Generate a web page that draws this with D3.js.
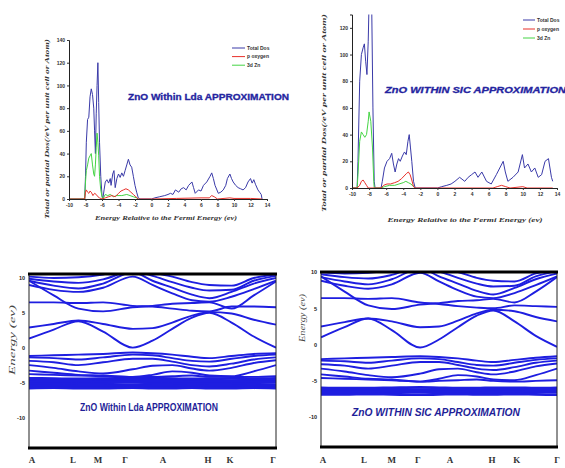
<!DOCTYPE html>
<html>
<head>
<meta charset="utf-8">
<style>
  body { margin: 0; background: #fff; }
  .tick text { font-family: "Liberation Sans", Arial, sans-serif; font-weight: bold; }
</style>
</head>
<body>
<div id="chart"></div>
<script src="https://d3js.org/d3.v7.min.js"></script>
<script>
// ---------- DOS data: [energy (eV), states] ----------
var xTicks = [-10, -8, -6, -4, -2, 0, 2, 4, 6, 8, 10, 12, 14];
var ldaYTicks = [0, 20, 40, 60, 80, 100, 120, 140];
var sicYTicks = [0, 20, 40, 60, 80, 100, 120];
var legendNames = ["Total Dos", "p oxygen", "3d Zn"];

var ldaTotal = [[-10,0],[-8.1,0],[-8.0,20],[-7.9,50],[-7.75,70],[-7.6,72],[-7.45,90],[-7.3,97],[-7.15,92],[-7.0,80],[-6.9,60],[-6.8,40],[-6.7,75],[-6.6,100],[-6.5,120],[-6.4,85],[-6.3,50],[-6.15,20],[-6.0,3],[-5.9,0],[-5.75,8],[-5.6,15],[-5.4,17],[-5.2,14],[-5.0,18],[-4.9,12],[-4.7,22],[-4.55,25],[-4.4,10],[-4.2,18],[-4.0,22],[-3.8,19],[-3.6,23],[-3.4,20],[-3.2,25],[-3.0,30],[-2.8,35],[-2.6,30],[-2.4,28],[-2.2,20],[-2.0,12],[-1.8,6],[-1.6,1],[-1.4,0],[0,0],[0.4,1],[1.0,2],[1.6,3],[2.0,4],[2.3,5],[2.6,4],[2.9,8],[3.3,6],[3.6,9],[3.9,10],[4.2,8],[4.5,12],[4.9,15],[5.1,10],[5.3,5],[5.7,8],[6.0,7],[6.3,12],[6.7,15],[7.1,20],[7.3,23],[7.5,18],[7.7,12],[8.1,5],[8.4,6],[8.7,8],[9.0,12],[9.2,18],[9.5,22],[9.7,18],[9.9,15],[10.2,12],[10.5,10],[10.8,9],[11.1,8],[11.4,10],[11.7,15],[12.0,18],[12.2,14],[12.4,17],[12.6,13],[12.9,8],[13.1,6],[13.3,4],[13.4,0]];
var ldaOxygen = [[-10,0],[-8.1,0],[-8.0,6],[-7.9,8],[-7.75,6],[-7.6,5],[-7.45,7],[-7.3,6],[-7.1,3],[-6.9,5],[-6.7,4],[-6.5,2],[-6.3,1],[-6.0,0],[-5.6,1],[-5.2,2],[-4.8,3],[-4.4,2],[-4.0,5],[-3.7,7],[-3.4,8],[-3.1,9],[-2.8,8],[-2.5,6],[-2.2,4],[-1.9,2],[-1.6,0],[0,0],[3,0.5],[6,1],[7.0,1],[7.3,3],[7.6,2],[8,0],[9.5,1],[10,0.5],[12,0.5],[13.4,0]];
var ldaZn = [[-10,0],[-8.1,0],[-8.0,15],[-7.9,25],[-7.75,30],[-7.6,36],[-7.45,38],[-7.3,40],[-7.15,30],[-7.0,22],[-6.9,20],[-6.8,30],[-6.7,45],[-6.6,58],[-6.5,50],[-6.4,38],[-6.3,20],[-6.15,8],[-6.0,2],[-5.9,0],[-5.6,4],[-5.3,3],[-5.0,4],[-4.6,2],[-4.2,3],[-3.6,3],[-3.0,4],[-2.6,3],[-2.2,2],[-1.8,1],[-1.6,0]];

var sicTotal = [[-10,0],[-9.4,0],[-9.3,20],[-9.1,80],[-8.9,100],[-8.7,105],[-8.55,108],[-8.4,95],[-8.25,85],[-8.1,110],[-8.0,140],[-7.7,140],[-7.55,60],[-7.4,5],[-7.3,0],[-6.6,0],[-6.45,5],[-6.2,15],[-5.9,20],[-5.6,22],[-5.35,26],[-5.15,18],[-4.95,12],[-4.75,18],[-4.55,22],[-4.35,20],[-4.1,24],[-3.85,27],[-3.65,25],[-3.45,35],[-3.3,40],[-3.15,30],[-3.0,20],[-2.8,5],[-2.6,0],[0,0],[0.5,1],[1.1,2],[1.6,3],[2.05,5],[2.6,8],[3.2,5],[3.6,8],[4.0,10],[4.4,12],[4.75,8],[5.2,12],[5.75,5],[6.3,3],[6.9,10],[7.3,15],[7.7,20],[7.95,12],[8.25,5],[8.85,8],[9.45,12],[9.95,25],[10.2,15],[10.6,18],[11.0,12],[11.4,15],[11.8,8],[12.2,10],[12.6,20],[13.0,22],[13.35,8],[13.5,5]];
var sicOxygen = [[-10,0],[-9.4,0],[-9.1,2],[-8.9,5],[-8.7,6],[-8.5,4],[-8.3,2],[-8.1,0],[-6.6,0],[-6.3,2],[-5.9,3],[-5.5,3],[-5.0,4],[-4.6,5],[-4.2,7],[-3.9,9],[-3.6,11],[-3.4,12],[-3.2,10],[-3.0,6],[-2.8,1],[-2.6,0],[0,0],[6.5,0],[7.0,1],[7.5,2],[8.0,1],[8.5,0],[10,1],[10.5,0],[13.5,0]];
var sicZn = [[-10,0],[-9.4,0],[-9.3,10],[-9.1,35],[-8.9,42],[-8.7,40],[-8.5,38],[-8.3,40],[-8.1,50],[-8.0,57],[-7.8,50],[-7.6,30],[-7.45,5],[-7.4,0],[-6.6,0],[-6.2,1],[-5.6,2],[-5.0,2],[-4.5,3],[-4.0,4],[-3.7,5],[-3.4,4],[-3.1,3],[-2.8,1],[-2.6,0]];

// ---------- band structure data ----------
// k along the path (0 = A ... 1 = Gamma)
var kKnots = [0, 0.1, 0.2, 0.3, 0.42, 0.5, 0.58, 0.66, 0.73, 0.82, 0.91, 1.0];
var kNames = ["A", "L", "M", "\u0393", "A", "H", "K", "\u0393"];
var ldaKPos = [0.012, 0.178, 0.279, 0.389, 0.543, 0.725, 0.814, 0.988];
var sicKPos = [0.008, 0.182, 0.300, 0.410, 0.547, 0.725, 0.830, 1.0];
var eTicks = [-10, -5, 0, 5, 10];

var ldaBands = [
  [1.3, 2.6, 3.8, 2.3, 0.0, 1.0, 2.7, 4.3, 5.0, 3.6, 1.6, 0.0],
  [2.9, 3.4, 3.9, 3.4, 2.7, 2.8, 3.6, 4.6, 5.1, 4.9, 4.0, 3.3],
  [6.5, 6.5, 6.4, 6.5, 6.0, 5.9, 5.6, 5.3, 5.2, 5.9, 5.9, 5.8],
  [9.6, 7.5, 5.6, 5.2, 5.8, 6.0, 6.3, 6.4, 6.5, 5.6, 7.5, 9.5],
  [9.0, 8.3, 8.0, 8.6, 10.2, 9.0, 7.8, 6.8, 6.6, 7.3, 8.4, 9.6],
  [9.6, 8.9, 8.5, 9.2, 10.8, 9.6, 8.6, 7.6, 7.1, 8.0, 9.2, 10.0],
  [9.9, 9.5, 9.3, 9.8, 11.0, 10.3, 9.4, 8.6, 8.2, 8.3, 9.6, 10.3],
  [10.2, 10.0, 10.1, 10.5, 11.5, 10.8, 10.2, 9.4, 9.0, 8.9, 10.0, 10.5],
  [-1.2, -1.1, -1.0, -0.9, -0.7, -0.8, -1.0, -1.3, -1.5, -1.2, -0.9, -0.8],
  [-1.4, -1.5, -1.7, -1.4, -1.0, -1.1, -1.5, -1.9, -2.0, -1.6, -1.2, -1.0],
  [-1.9, -2.1, -2.5, -2.1, -1.6, -1.6, -2.0, -2.5, -2.7, -2.3, -1.7, -1.4],
  [-2.5, -2.9, -3.4, -3.7, -3.1, -2.6, -2.5, -3.0, -3.3, -2.9, -2.2, -1.8],
  [-3.3, -3.6, -3.9, -4.0, -4.2, -3.9, -3.4, -3.6, -4.0, -4.1, -3.4, -2.5],
  [-3.8, -3.9, -4.0, -4.1, -4.2, -4.2, -4.1, -4.0, -4.2, -4.2, -4.2, -4.1]
];
var ldaDBands = [
  [-4.40, -4.45, -4.50, -4.45, -4.35, -4.40, -4.45, -4.50, -4.45, -4.40, -4.45, -4.40],
  [-4.70, -4.70, -4.75, -4.70, -4.65, -4.70, -4.75, -4.70, -4.70, -4.75, -4.70, -4.65],
  [-4.95, -5.00, -5.00, -4.95, -4.95, -5.00, -5.00, -4.95, -5.00, -5.00, -4.95, -4.95],
  [-5.25, -5.25, -5.20, -5.25, -5.30, -5.25, -5.20, -5.25, -5.25, -5.20, -5.25, -5.30],
  [-5.50, -5.55, -5.50, -5.50, -5.55, -5.50, -5.50, -5.55, -5.50, -5.50, -5.55, -5.50],
  [-5.80, -5.75, -5.80, -5.80, -5.75, -5.80, -5.80, -5.75, -5.80, -5.80, -5.75, -5.80]
];

var sicBands = [
  [1.0, 2.4, 3.6, 2.0, -0.4, 0.7, 2.4, 4.0, 4.7, 3.2, 1.2, -0.3],
  [2.5, 3.1, 3.6, 3.2, 2.4, 2.5, 3.3, 4.3, 4.8, 4.6, 3.8, 3.2],
  [6.4, 6.4, 6.3, 6.4, 5.8, 5.6, 5.3, 5.1, 5.0, 5.4, 5.3, 5.2],
  [9.4, 7.3, 5.4, 4.9, 5.5, 5.7, 6.0, 6.1, 6.3, 5.8, 7.3, 9.3],
  [8.8, 8.1, 7.7, 8.3, 9.9, 8.7, 7.5, 6.6, 6.4, 7.1, 8.2, 9.4],
  [9.3, 8.7, 8.3, 9.0, 10.5, 9.4, 8.4, 7.4, 6.9, 7.8, 9.0, 9.8],
  [9.7, 9.3, 9.1, 9.6, 10.8, 10.1, 9.2, 8.4, 8.0, 8.1, 9.4, 10.1],
  [10.0, 9.8, 9.9, 10.3, 11.3, 10.6, 10.0, 9.2, 8.8, 8.7, 9.8, 10.3],
  [-2.0, -1.9, -1.8, -1.7, -1.6, -1.7, -1.9, -2.2, -2.4, -2.1, -1.8, -1.6],
  [-2.2, -2.3, -2.5, -2.2, -1.9, -2.0, -2.4, -2.8, -2.9, -2.5, -2.1, -1.9],
  [-2.7, -2.9, -3.3, -2.9, -2.4, -2.4, -2.8, -3.3, -3.5, -3.1, -2.5, -2.2],
  [-3.3, -3.7, -4.2, -4.5, -4.0, -3.4, -3.3, -3.8, -4.1, -3.7, -3.0, -2.6],
  [-4.1, -4.4, -4.7, -4.8, -5.1, -4.7, -4.2, -4.4, -4.8, -4.9, -4.2, -3.3],
  [-4.6, -4.7, -4.8, -4.9, -5.1, -5.0, -4.9, -4.8, -5.0, -5.1, -5.0, -4.9]
];
var sicDBands = [
  [-5.95, -6.00, -6.00, -5.95, -5.90, -5.95, -6.00, -6.00, -5.95, -5.95, -6.00, -5.95],
  [-6.25, -6.25, -6.30, -6.25, -6.20, -6.25, -6.30, -6.25, -6.25, -6.30, -6.25, -6.20],
  [-6.55, -6.55, -6.55, -6.50, -6.50, -6.55, -6.55, -6.50, -6.55, -6.55, -6.50, -6.50],
  [-6.85, -6.85, -6.80, -6.85, -6.90, -6.85, -6.80, -6.85, -6.85, -6.80, -6.85, -6.90]
];

var dosColors = ["#3a3aa8", "#e8302a", "#44d444"];
var bandColor = "#1e1ee0";

var svg = d3.select("#chart").append("svg")
    .attr("width", 565)
    .attr("height", 468)
    .style("display", "block");

function dosPanel(p) {
  var x = d3.scaleLinear().domain([-10, 14]).range([p.x0, p.x1]);
  var y = d3.scaleLinear().domain([0, p.ymax]).range([p.y0, p.y1]);
  var g = svg.append("g");

  g.append("clipPath").attr("id", p.id)
    .append("rect")
      .attr("x", p.x0).attr("y", p.y1)
      .attr("width", p.x1 - p.x0).attr("height", p.y0 - p.y1 + 1);

  var line = d3.line().x(function(d) { return x(d[0]); }).y(function(d) { return y(d[1]); });

  // total first, then zinc, then oxygen on top
  [[p.series[0], 0], [p.series[2], 2], [p.series[1], 1]].forEach(function(s) {
    g.append("path")
      .attr("clip-path", "url(#" + p.id + ")")
      .attr("d", line(s[0]))
      .attr("fill", "none")
      .attr("stroke", dosColors[s[1]])
      .attr("stroke-width", 1)
      .attr("stroke-linejoin", "round");
  });

  var xa = g.append("g")
    .attr("transform", "translate(0," + y(0) + ")")
    .call(d3.axisBottom(x).tickValues(xTicks).tickSize(2).tickPadding(2).tickFormat(function(d) { return String(d); }));
  var ya = g.append("g")
    .attr("transform", "translate(" + x(-10) + ",0)")
    .call(d3.axisLeft(y).tickValues(p.yTicks).tickSize(2).tickPadding(2).tickFormat(function(d) { return String(d); }));
  [xa, ya].forEach(function(a) {
    a.selectAll("text").style("font-size", "5px").attr("fill", "#333");
    a.selectAll("line").attr("stroke", "#333");
    a.select(".domain").attr("stroke", "#222");
  });

  // legend
  legendNames.forEach(function(name, i) {
    var ly = p.legY + i * p.legStep;
    g.append("line")
      .attr("x1", p.legX).attr("x2", p.legX + p.legLen)
      .attr("y1", ly).attr("y2", ly)
      .attr("stroke", dosColors[i]).attr("stroke-width", 1);
    g.append("text")
      .attr("x", p.legX + p.legLen + 2).attr("y", ly + 1.6)
      .style("font-family", "Liberation Sans, Arial, sans-serif")
      .style("font-size", "5px").style("font-weight", "bold")
      .attr("fill", "#333")
      .text(name);
  });

  g.append("text")
    .attr("x", p.titleX).attr("y", p.titleY)
    .attr("textLength", p.titleLen).attr("lengthAdjust", "spacingAndGlyphs")
    .style("font-family", "Liberation Sans, Arial, sans-serif")
    .style("font-size", "9px").style("font-weight", "bold")
    .style("font-style", p.italic ? "italic" : "normal")
    .attr("fill", "#2424a0")
    .attr("stroke", "#2424a0").attr("stroke-width", 0.3)
    .text(p.title);

  g.append("text")
    .attr("transform", "translate(" + p.ylabX + "," + p.ylabY + ") rotate(-90)")
    .attr("text-anchor", "middle")
    .attr("textLength", p.ylabLen).attr("lengthAdjust", "spacingAndGlyphs")
    .style("font-family", "Liberation Serif, Times, serif")
    .style("font-size", "7px").style("font-weight", "bold").style("font-style", "italic")
    .attr("fill", "#333")
    .text("Total or partial Dos(/eV per unit cell or Atom)");

  g.append("text")
    .attr("x", p.xlabX).attr("y", p.xlabY)
    .attr("text-anchor", "middle")
    .attr("textLength", p.xlabLen).attr("lengthAdjust", "spacingAndGlyphs")
    .style("font-family", "Liberation Serif, Times, serif")
    .style("font-size", "6.5px").style("font-weight", "bold").style("font-style", "italic")
    .attr("fill", "#333")
    .text("Energy Relative to the Fermi Energy (ev)");
}

function bandPanel(p) {
  var x = d3.scaleLinear().domain([0, 1]).range([p.x0, p.x1]);
  var y = d3.scaleLinear().domain(p.eDomain).range([p.y0, p.y1]);
  var g = svg.append("g");

  g.append("clipPath").attr("id", p.id)
    .append("rect")
      .attr("x", p.x0).attr("y", p.y1)
      .attr("width", p.x1 - p.x0).attr("height", p.y0 - p.y1);

  var line = d3.line()
    .x(function(d, i) { return x(kKnots[i]); })
    .y(function(d) { return y(d); })
    .curve(d3.curveMonotoneX);

  p.dBands.forEach(function(b) {
    g.append("path").attr("clip-path", "url(#" + p.id + ")")
      .attr("d", line(b)).attr("fill", "none")
      .attr("stroke", bandColor).attr("stroke-width", 2.8);
  });
  p.bands.forEach(function(b) {
    g.append("path").attr("clip-path", "url(#" + p.id + ")")
      .attr("d", line(b)).attr("fill", "none")
      .attr("stroke", bandColor).attr("stroke-width", 1.9);
  });

  // frame: thin sides, heavy top and bottom
  g.append("rect")
    .attr("x", p.x0).attr("y", p.y1)
    .attr("width", p.x1 - p.x0).attr("height", p.y0 - p.y1)
    .attr("fill", "none").attr("stroke", "#222").attr("stroke-width", 1);
  [p.y1, p.y0].forEach(function(yy) {
    g.append("line")
      .attr("x1", p.x0 - 1).attr("x2", p.x1 + 1)
      .attr("y1", yy).attr("y2", yy)
      .attr("stroke", "#000").attr("stroke-width", 3);
  });

  var ya = g.append("g")
    .attr("transform", "translate(" + p.x0 + ",0)")
    .call(d3.axisLeft(y).tickValues(eTicks).tickSize(0).tickPadding(4).tickFormat(function(d) { return String(d); }));
  ya.select(".domain").remove();
  ya.selectAll("text").style("font-size", "5.5px").attr("fill", "#222");

  g.selectAll(".klab")
    .data(kNames)
    .enter().append("text")
      .attr("class", "klab")
      .attr("x", function(d, i) { return x(p.kPos[i]); })
      .attr("y", p.klabY)
      .attr("text-anchor", "middle")
      .style("font-family", "Liberation Serif, Times, serif")
      .style("font-size", "9px").style("font-weight", "bold")
      .attr("fill", "#333")
      .text(function(d) { return d; });

  g.append("text")
    .attr("transform", "translate(" + p.ylabX + "," + p.ylabY + ") rotate(-90)")
    .attr("text-anchor", "middle")
    .attr("textLength", p.ylabLen).attr("lengthAdjust", "spacingAndGlyphs")
    .style("font-family", "Liberation Serif, Times, serif")
    .style("font-size", "9px").style("font-style", "italic")
    .attr("fill", "#444")
    .text("Energy (ev)");

  g.append("text")
    .attr("x", p.titleX).attr("y", p.titleY)
    .attr("textLength", p.titleLen).attr("lengthAdjust", "spacingAndGlyphs")
    .style("font-family", "Liberation Sans Narrow, Liberation Sans, Arial, sans-serif")
    .style("font-size", "10.5px").style("font-weight", "bold")
    .style("font-style", p.italic ? "italic" : "normal")
    .attr("fill", "#1e1e98")
    .text(p.title);
}

dosPanel({
  id: "clip-lda-dos", x0: 69, x1: 267, y0: 199, y1: 40, ymax: 140, yTicks: ldaYTicks,
  series: [ldaTotal, ldaOxygen, ldaZn],
  legX: 232, legY: 48, legStep: 8.6, legLen: 13,
  title: "ZnO Within Lda APPROXIMATION", titleX: 128, titleY: 100, titleLen: 161, italic: false,
  ylabX: 49, ylabY: 129, ylabLen: 180,
  xlabX: 166, xlabY: 220, xlabLen: 142
});

dosPanel({
  id: "clip-sic-dos", x0: 352, x1: 557, y0: 188, y1: 14.5, ymax: 130, yTicks: sicYTicks,
  series: [sicTotal, sicOxygen, sicZn],
  legX: 523, legY: 20, legStep: 9, legLen: 12,
  title: "ZnO WITHIN SIC APPROXIMATION", titleX: 385, titleY: 93, titleLen: 181, italic: true,
  ylabX: 326, ylabY: 113, ylabLen: 198,
  xlabX: 465, xlabY: 222, xlabLen: 155
});

bandPanel({
  id: "clip-lda-band", x0: 29, x1: 276, y0: 448, y1: 274, eDomain: [-14.4, 10.57],
  bands: ldaBands, dBands: ldaDBands, kPos: ldaKPos, klabY: 463,
  ylabX: 15, ylabY: 340, ylabLen: 70,
  title: "ZnO Within Lda APPROXIMATION", titleX: 80, titleY: 411, titleLen: 138, italic: false
});

bandPanel({
  id: "clip-sic-band", x0: 321, x1: 557, y0: 447, y1: 272, eDomain: [-14.1, 10],
  bands: sicBands, dBands: sicDBands, kPos: sicKPos, klabY: 463,
  ylabX: 305, ylabY: 318, ylabLen: 48,
  title: "ZnO WITHIN SIC APPROXIMATION", titleX: 352, titleY: 416, titleLen: 168, italic: true
});
</script>
</body>
</html>
